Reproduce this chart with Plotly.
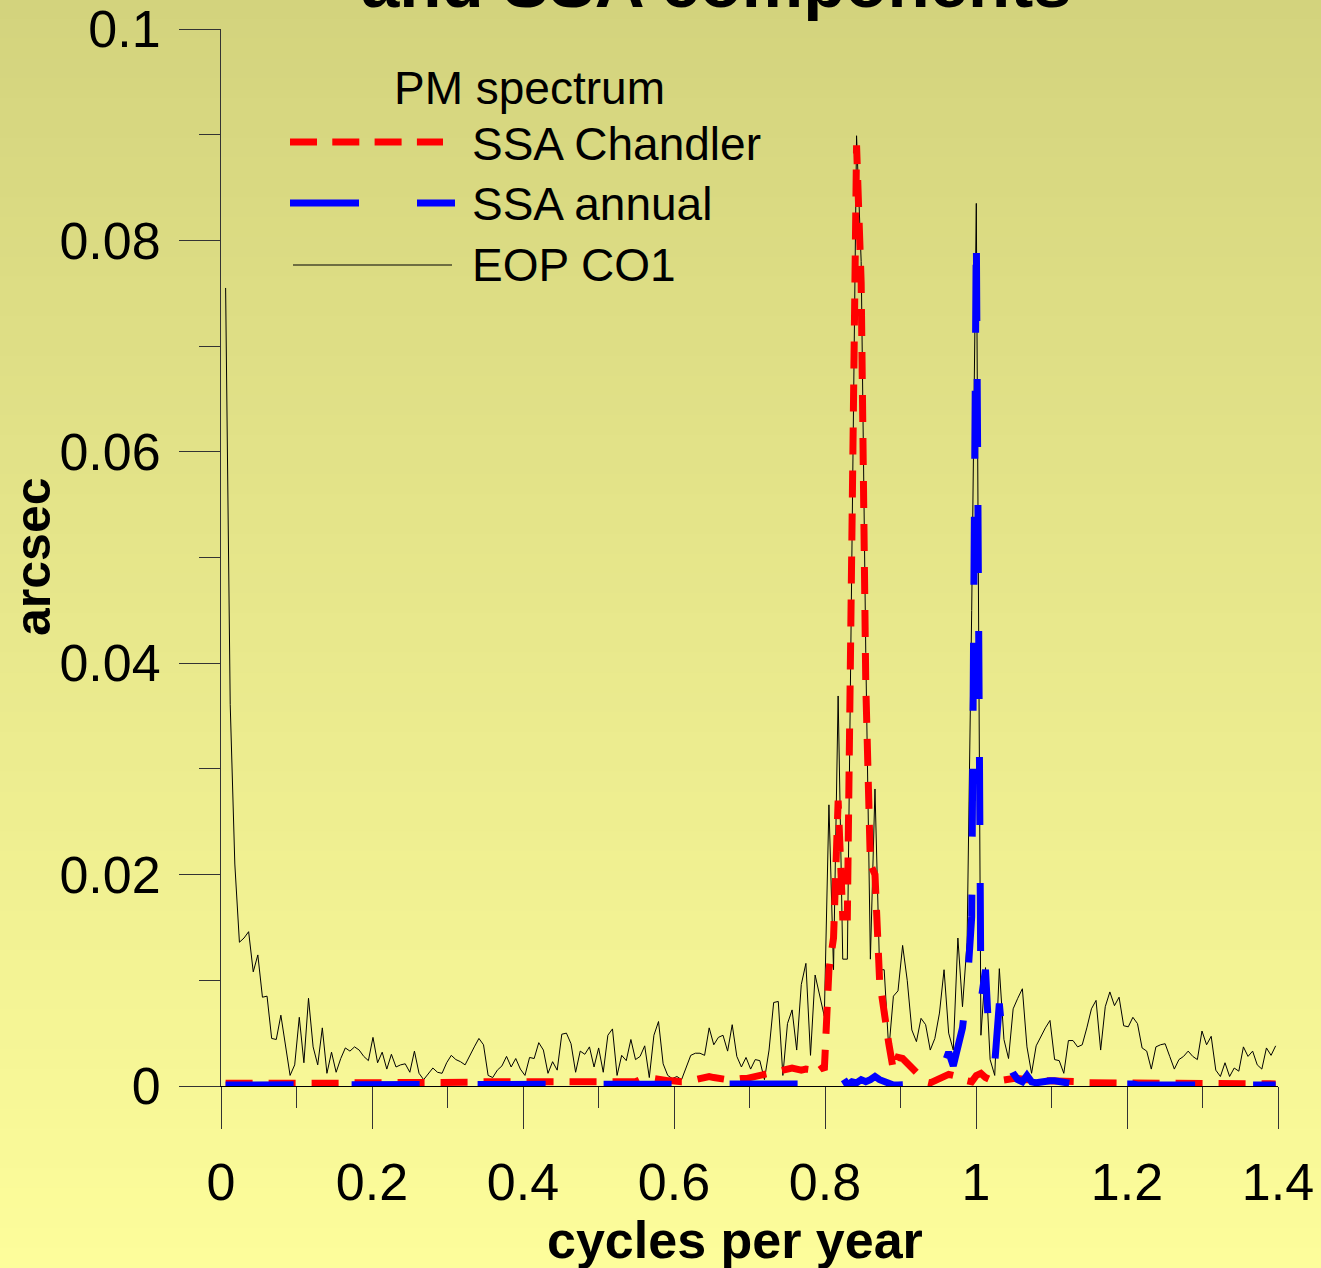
import plotly.graph_objects as go

# ---------------- data ----------------
FREQ_STEP = 0.0061  # spectral resolution, cycles per year

eop_co1 = [
    0.0755, 0.0361, 0.0210, 0.0136, 0.0140, 0.0146, 0.0108, 0.0124, 0.0084, 0.0085,
    0.0045, 0.0044, 0.0067, 0.0037, 0.0010, 0.0020, 0.0065, 0.0022, 0.0083, 0.0037,
    0.0020, 0.0055, 0.0012, 0.0032, 0.0013, 0.0026, 0.0036, 0.0033, 0.0037, 0.0034,
    0.0028, 0.0024, 0.0046, 0.0022, 0.0032, 0.0016, 0.0030, 0.0018, 0.0020, 0.0021,
    0.0013, 0.0033, 0.0012, 0.0006, 0.0012, 0.0017, 0.0013, 0.0012, 0.0022, 0.0029,
    0.0025, 0.0023, 0.0020, 0.0029, 0.0037, 0.0045, 0.0039, 0.0010, 0.0008, 0.0015,
    0.0019, 0.0028, 0.0018, 0.0026, 0.0016, 0.0010, 0.0027, 0.0026, 0.0041, 0.0034,
    0.0012, 0.0023, 0.0015, 0.0049, 0.0050, 0.0040, 0.0013, 0.0033, 0.0030, 0.0037,
    0.0018, 0.0036, 0.0013, 0.0048, 0.0054, 0.0010, 0.0029, 0.0024, 0.0044, 0.0025,
    0.0028, 0.0038, 0.0008, 0.0048, 0.0061, 0.0021, 0.0010, 0.0007, 0.0009, 0.0006,
    0.0018, 0.0029, 0.0031, 0.0031, 0.0029, 0.0055, 0.0039, 0.0046, 0.0048, 0.0033,
    0.0058, 0.0028, 0.0018, 0.0027, 0.0016, 0.0025, 0.0024, 0.0006, 0.0034, 0.0079,
    0.0080, 0.0010, 0.0059, 0.0072, 0.0034, 0.0096, 0.0116, 0.0029, 0.0105, 0.0085,
    0.0066, 0.0266, 0.0110, 0.0369, 0.0120, 0.0120, 0.0500, 0.0899, 0.0780, 0.0410,
    0.0120, 0.0281, 0.0110, 0.0110, 0.0034, 0.0085, 0.0090, 0.0133, 0.0100, 0.0053,
    0.0042, 0.0064, 0.0058, 0.0034, 0.0045, 0.0069, 0.0110, 0.0050, 0.0034, 0.0140,
    0.0075, 0.0136, 0.0450, 0.0835, 0.0048, 0.0112, 0.0025, 0.0010, 0.0111, 0.0044,
    0.0026, 0.0073, 0.0083, 0.0092, 0.0037, 0.0012, 0.0038, 0.0047, 0.0055, 0.0062,
    0.0025, 0.0024, 0.0012, 0.0043, 0.0043, 0.0037, 0.0039, 0.0055, 0.0073, 0.0081,
    0.0034, 0.0075, 0.0089, 0.0076, 0.0084, 0.0057, 0.0056, 0.0065, 0.0059, 0.0036,
    0.0033, 0.0016, 0.0037, 0.0039, 0.0040, 0.0028, 0.0016, 0.0025, 0.0028, 0.0033,
    0.0028, 0.0025, 0.0052, 0.0039, 0.0047, 0.0015, 0.0009, 0.0022, 0.0009, 0.0017,
    0.0014, 0.0037, 0.0028, 0.0033, 0.0020, 0.0016, 0.0036, 0.0029, 0.0038,
]

ssa_chandler = [
    0.00025, 0.00025, 0.00025, 0.0002, 0.0002, 0.0002, 0.00025, 0.00025, 0.00025, 0.00025,
    0.00025, 0.0002, 0.0002, 0.0002, 0.00015, 0.0001, 0.0001, 0.00015, 0.0002, 0.00025,
    0.00025, 0.0002, 0.0002, 0.0002, 0.0002, 0.00025, 0.0003, 0.0003, 0.00025, 0.0002,
    0.0002, 0.0002, 0.00025, 0.0003, 0.0003, 0.0003, 0.00025, 0.0002, 0.0002, 0.00025,
    0.0003, 0.0003, 0.0003, 0.00025, 0.00025, 0.0003, 0.0003, 0.0003, 0.0003, 0.0003,
    0.0003, 0.0003, 0.0003, 0.0003, 0.0003, 0.00035, 0.0004, 0.0004, 0.00035, 0.0003,
    0.0003, 0.0003, 0.00035, 0.0004, 0.0004, 0.0004, 0.00035, 0.0003, 0.0003, 0.0003,
    0.0003, 0.00035, 0.0004, 0.0004, 0.0004, 0.00035, 0.0003, 0.0003, 0.0003, 0.00035,
    0.0004, 0.0004, 0.0004, 0.0004, 0.0004, 0.00035, 0.0003, 0.0003, 0.00035, 0.0004,
    0.0006, 0.0007, 0.0007, 0.0007, 0.0006, 0.0005, 0.0005, 0.0005, 0.0004, 0.0004,
    0.0004, 0.0005, 0.0006, 0.0007, 0.0008, 0.0009, 0.0008, 0.0007, 0.0006, 0.0006,
    0.0006, 0.0007, 0.0007, 0.0007, 0.0008, 0.0010, 0.0011, 0.0012, 0.0012, 0.0013,
    0.0014, 0.0016, 0.0017, 0.0017, 0.0016, 0.0015, 0.0016, 0.0015, 0.0015, 0.0021,
    0.0015, 0.0110, 0.0140, 0.0270, 0.0160, 0.0160, 0.0500, 0.0890, 0.0760, 0.0380,
    0.0210, 0.0200, 0.0100, 0.0065, 0.0040, 0.0015, 0.0027, 0.0026, 0.0022, 0.0018,
    0.0012, 0.0008, 0.0004, 0.0003, 0.0005, 0.0008, 0.0010, 0.0011, 0.0010, 0.0010,
    0.0009, 0.0005, 0.0004, 0.0010, 0.0012, 0.0008, 0.0005, 0.0004, 0.0005, 0.0006,
    0.0007, 0.0007, 0.0007, 0.0006, 0.0006, 0.0006, 0.0005, 0.0005, 0.0005, 0.0005,
    0.0004, 0.0004, 0.0004, 0.0005, 0.0005, 0.0004, 0.0004, 0.0003, 0.0003, 0.0003,
    0.0002, 0.0002, 0.0002, 0.0002, 0.0002, 0.0002, 0.0002, 0.0002, 0.0002, 0.0002,
    0.0002, 0.0002, 0.0002, 0.0002, 0.0002, 0.0002, 0.0003, 0.0003, 0.0003, 0.0003,
    0.0003, 0.0003, 0.0003, 0.0003, 0.0002, 0.0002, 0.0002, 0.0002, 0.0002, 0.0002,
    0.0002, 0.0002, 0.0003, 0.0003, 0.0003, 0.0003, 0.0002, 0.0002, 0.0002,
]

ssa_annual = [
    0.0001, 0.0001, 0.0001, 0.0001, 0.0001, 0.0001, 0.0001, 0.0001, 0.0001, 0.0001,
    0.0001, 0.0001, 0.0001, 0.0001, 0.0001, 0.0001, 0.0001, 0.0001, 0.0001, 0.0001,
    0.00005, 0.00005, 0.0001, 0.0001, 0.0001, 0.0001, 0.0001, 0.0001, 0.0001, 0.0001,
    0.0001, 0.0001, 0.0001, 0.0001, 0.0001, 0.0001, 0.0001, 0.0001, 0.00015, 0.00015,
    0.00015, 0.0001, 0.0001, 0.0001, 0.0001, 0.0001, 0.0001, 0.0001, 0.0001, 0.0001,
    0.0001, 0.0001, 0.0001, 0.0001, 0.0001, 0.0001, 0.0001, 0.0001, 0.0001, 0.0001,
    0.0001, 0.0001, 0.0001, 0.0001, 0.0001, 0.0001, 0.0001, 0.0001, 0.0001, 0.0001,
    0.0001, 0.0001, 0.0001, 0.0001, 0.0001, 0.0001, 0.0001, 0.0001, 0.0001, 0.0001,
    0.0001, 0.0001, 0.0001, 0.0001, 0.0001, 0.0001, 0.0001, 0.0001, 0.0001, 0.0001,
    0.0001, 0.0001, 0.0001, 0.0001, 0.0001, 0.0001, 0.0001, 0.0001, 0.0001, 0.0001,
    0.0001, 0.0001, 0.0001, 0.0001, 0.0001, 0.0001, 0.0001, 0.0001, 0.0001, 0.0001,
    0.0002, 0.0002, 0.0002, 0.0002, 0.0002, 0.00015, 0.00015, 0.0001, 0.0001, 0.0001,
    0.0001, 0.0001, 0.0001, 0.0001, 0.0001, 0.0001, 0.0001, 0.0001, 0.0001, 0.0002,
    0.0006, 0.0012, 0.0016, 0.0015, 0.0008, 0.0001, 0.0004, 0.0003, 0.0006, 0.0004,
    0.0006, 0.0009, 0.0006, 0.0004, 0.0002, 0.0001, 0.0001, 0.0001, 0.0001, 0.0002,
    0.0002, 0.0002, 0.0003, 0.0004, 0.0006, 0.0008, 0.0022, 0.0032, 0.0019, 0.0035,
    0.0055, 0.0093, 0.0160, 0.0810, 0.0080, 0.0110, 0.0025, 0.0021, 0.0078, 0.0030,
    0.0020, 0.0012, 0.0006, 0.0004, 0.0010, 0.0004, 0.0003, 0.0004, 0.0004, 0.0005,
    0.0005, 0.0004, 0.0003, 0.0002, 0.0002, 0.0002, 0.0002, 0.0002, 0.0002, 0.0002,
    0.0002, 0.0002, 0.0002, 0.0002, 0.0002, 0.0003, 0.0002, 0.0002, 0.0001, 0.0001,
    0.0001, 0.0001, 0.0001, 0.0001, 0.0001, 0.0001, 0.0001, 0.0001, 0.0001, 0.0001,
    0.0001, 0.0001, 0.0001, 0.0001, 0.0001, 0.0001, 0.0001, 0.0001, 0.0001, 0.0001,
    0.0001, 0.0001, 0.0001, 0.0001, 0.0001, 0.0001, 0.0001, 0.0001, 0.0001,
]

freq = [round((k + 1) * FREQ_STEP, 4) for k in range(len(eop_co1))]

legend_title = "PM spectrum"
series_names = ["SSA Chandler", "SSA annual", "EOP CO1"]
title_text = "Polar motion amplitude spectrum<br>and SSA components"
x_title = "cycles per year"
y_title = "arcsec"

# ---------------- styling / layout ----------------
W, H = 1321, 1268
L, R, T, B = 221, 43, 29, 182
PW, PH = W - L - R, H - T - B
FONT = "Liberation Sans, Arial, sans-serif"
RED_DASH = "27px,16px"
BLUE_DASH = "68px,58px"


def px_x(px):
    return (px - L) / PW


def px_y(py):
    return (H - B - py) / PH


fig = go.Figure()
fig.add_trace(go.Scatter(x=freq, y=eop_co1, mode="lines", name=series_names[2],
                         line=dict(color="black", width=1), showlegend=False))
fig.add_trace(go.Scatter(x=freq, y=ssa_chandler, mode="lines", name=series_names[0],
                         line=dict(color="#ff0000", width=7, dash=RED_DASH), showlegend=False))
fig.add_trace(go.Scatter(x=freq, y=ssa_annual, mode="lines", name=series_names[1],
                         line=dict(color="#0000ff", width=7, dash=BLUE_DASH), showlegend=False))

shapes = []
# vertical background gradient (whole canvas)
top_rgb = (211, 211, 125)
bot_rgb = (253, 253, 155)
n_strips = 64
strip_h = H / n_strips
for k in range(n_strips):
    t = (k + 0.5) / n_strips
    c = tuple(round(a + (b - a) * t) for a, b in zip(top_rgb, bot_rgb))
    shapes.append(dict(type="rect", xref="paper", yref="paper", layer="below",
                       x0=px_x(0), x1=px_x(W), y0=px_y(k * strip_h - 1),
                       y1=px_y((k + 1) * strip_h + 1),
                       fillcolor="rgb(%d,%d,%d)" % c, line=dict(width=0)))

# custom legend samples
shapes.append(dict(type="line", xref="paper", yref="paper", x0=px_x(290), x1=px_x(443),
                   y0=px_y(142), y1=px_y(142),
                   line=dict(color="#ff0000", width=7, dash="27px,15.3px")))
shapes.append(dict(type="line", xref="paper", yref="paper", x0=px_x(290), x1=px_x(455),
                   y0=px_y(203), y1=px_y(203),
                   line=dict(color="#0000ff", width=7, dash="69px,58px")))
shapes.append(dict(type="line", xref="paper", yref="paper", x0=px_x(293), x1=px_x(452),
                   y0=px_y(265), y1=px_y(265),
                   line=dict(color="black", width=1)))

annotations = [
    dict(text=legend_title, x=px_x(392), y=px_y(88), xref="paper", yref="paper",
         xanchor="left", yanchor="middle", showarrow=False,
         font=dict(family=FONT, size=46, color="black")),
]
for name, ypx in zip(series_names, [144, 204, 265]):
    annotations.append(dict(text=name, x=px_x(470), y=px_y(ypx), xref="paper", yref="paper",
                            xanchor="left", yanchor="middle", showarrow=False,
                            font=dict(family=FONT, size=46, color="black")))
annotations.append(dict(text="<b>%s</b>" % x_title, x=px_x(735), y=px_y(1240),
                        xref="paper", yref="paper", xanchor="center", yanchor="middle",
                        showarrow=False, font=dict(family=FONT, size=52, color="black")))
annotations.append(dict(text="<b>%s</b>" % y_title, x=px_x(33), y=px_y(557),
                        xref="paper", yref="paper", xanchor="center", yanchor="middle",
                        textangle=-90, showarrow=False,
                        font=dict(family=FONT, size=50, color="black")))
annotations.append(dict(text="<b>%s</b>" % title_text, x=px_x(716), y=px_y(24),
                        xref="paper", yref="paper", xanchor="center", yanchor="bottom",
                        showarrow=False, font=dict(family=FONT, size=69, color="black")))

fig.update_layout(
    width=W, height=H,
    margin=dict(l=L, r=R, t=T, b=B, pad=0, autoexpand=False),
    paper_bgcolor="rgb(232,232,140)",
    plot_bgcolor="rgba(0,0,0,0)",
    showlegend=False,
    shapes=shapes,
    annotations=annotations,
    font=dict(family=FONT, color="black"),
)
fig.update_xaxes(
    range=[0, 1.4], tick0=0, dtick=0.2, showgrid=False, zeroline=False, automargin=False,
    showline=True, linecolor="black", linewidth=1,
    ticks="outside", ticklen=42, tickwidth=1, tickcolor="#333",
    minor=dict(dtick=0.1, tick0=0, ticks="outside", ticklen=21, tickwidth=1, tickcolor="#333",
               showgrid=False),
    tickfont=dict(family=FONT, size=52, color="black"), ticklabelstandoff=9,
)
fig.update_yaxes(
    range=[0, 0.1], tick0=0, dtick=0.02, showgrid=False, zeroline=False, automargin=False,
    showline=True, linecolor="#333", linewidth=1,
    ticks="outside", ticklen=41, tickwidth=1, tickcolor="#333",
    minor=dict(dtick=0.01, tick0=0, ticks="outside", ticklen=21, tickwidth=1, tickcolor="#333",
               showgrid=False),
    tickfont=dict(family=FONT, size=52, color="black"), ticklabelstandoff=8,
)

fig.write_html("out.html")
